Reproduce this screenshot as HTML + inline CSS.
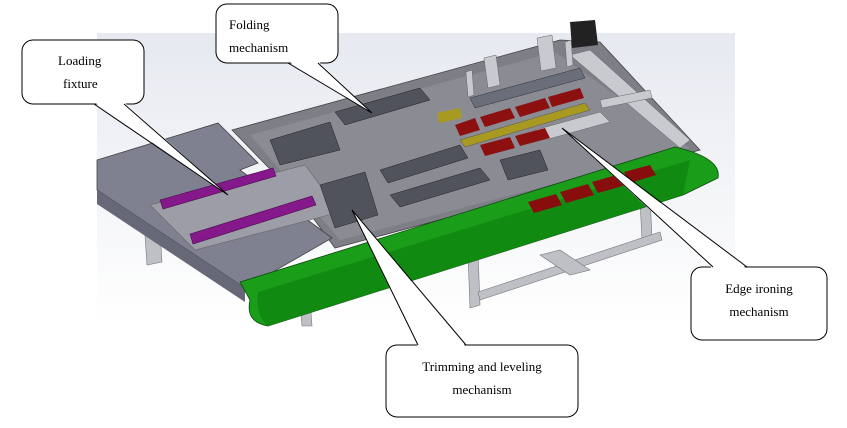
<!DOCTYPE html>
<html><head><meta charset="utf-8"><style>
html,body{margin:0;padding:0;background:#fff;}
svg{display:block;}
text{font-family:"Liberation Serif",serif;font-size:13px;fill:#000;}
</style></head><body>
<svg width="847" height="428" viewBox="0 0 847 428" xmlns="http://www.w3.org/2000/svg">
<defs>
<linearGradient id="bg" x1="0" y1="0" x2="0" y2="1">
<stop offset="0" stop-color="#e6e9f0"/><stop offset="1" stop-color="#ffffff"/>
</linearGradient>
</defs>
<rect x="97" y="33" width="638" height="293" fill="url(#bg)"/>
<g fill="#bfc0c6" stroke="#777" stroke-width="0.6">
<polygon points="468,255 478,252 480,305 470,308"/>
<polygon points="640,200 650,197 652,238 642,241"/>
<polygon points="478,292 660,232 662,240 480,300"/>
<polygon points="540,255 560,250 590,270 570,275"/>
<polygon points="300,300 310,298 312,326 302,326"/>
<polygon points="145,235 160,232 162,262 147,265"/>
</g>
<polygon points="232,130 560,40 600,42 700,150 335,248 300,200" fill="#7d7e86" stroke="#444" stroke-width="0.8"/>
<polygon points="250,135 555,52 690,148 340,240" fill="#8b8c93"/>
<polygon points="97,160 218,123 258,163 240,170 332,238 245,288 97,190" fill="#7f8190" stroke="#444" stroke-width="0.8"/>
<polygon points="97,190 245,288 245,302 97,204" fill="#666878"/>
<polygon points="150,205 305,165 340,212 195,250" fill="#9c9da7" stroke="#666" stroke-width="0.6"/>
<polygon points="160,200 273,168 276,176 163,209" fill="#85188a" stroke="#4a0a4a" stroke-width="0.6"/>
<polygon points="190,234 312,196 316,205 193,244" fill="#85188a" stroke="#4a0a4a" stroke-width="0.6"/>
<g fill="#50525c" stroke="#222" stroke-width="0.5">
<polygon points="335,112 420,88 430,100 345,125"/>
<polygon points="380,170 460,145 468,158 388,183"/>
<polygon points="270,140 330,122 340,150 280,165"/>
<polygon points="320,185 365,172 378,215 335,228"/>
<polygon points="390,195 480,168 490,180 400,207"/>
<polygon points="500,160 540,150 548,170 508,180"/>
</g>
<g fill="#c9cacf" stroke="#666" stroke-width="0.5">
<polygon points="484,58 496,55 500,85 488,88"/>
<polygon points="537,38 552,35 556,68 541,71"/>
<polygon points="535,130 600,112 610,122 545,140"/>
<polygon points="570,55 590,50 690,140 680,148"/>
<polygon points="600,100 650,90 652,98 602,108"/>
<polygon points="466,72 472,70 474,95 468,97"/>
<polygon points="565,42 571,40 573,65 567,67"/>
</g>
<polygon points="470,98 580,68 585,78 475,108" fill="#6a6d7a" stroke="#333" stroke-width="0.5"/>
<g fill="#8c1010">
<polygon points="455,125 475,118 480,130 460,136"/>
<polygon points="480,117 510,108 515,118 485,127"/>
<polygon points="515,107 545,98 550,108 520,117"/>
<polygon points="548,97 580,88 584,98 552,107"/>
<polygon points="480,145 510,137 515,148 485,156"/>
<polygon points="515,136 545,128 550,138 520,146"/>
</g>
<polygon points="437,113 460,108 462,118 439,123" fill="#a89a20"/>
<polygon points="460,140 585,103 590,110 465,147" fill="#a89a20" stroke="#555" stroke-width="0.5"/>
<polygon points="570,22 595,20 598,45 572,48" fill="#222"/>
<path d="M240,282 L675,147 Q722,158 718,178 L683,195 L268,326 Q245,322 250,300 Z" fill="#1a9e1a" stroke="#0b4a0b" stroke-width="0.8"/>
<path d="M258,292 L690,160 L683,195 L268,326 Q255,315 258,292 Z" fill="#118a11"/>
<g fill="#880e0e">
<polygon points="528,202 556,194 562,205 534,213"/>
<polygon points="560,192 588,184 594,195 566,203"/>
<polygon points="592,182 620,174 626,185 598,193"/>
<polygon points="624,172 650,165 656,175 630,183"/>
</g>
<g fill="#fff" stroke="#000" stroke-width="1">
<rect x="22" y="40" width="122" height="64" rx="11"/>
<rect x="216" y="4" width="122" height="59" rx="11"/>
<rect x="386" y="345" width="192" height="72" rx="11"/>
<rect x="691" y="267" width="136" height="73" rx="11"/>
</g>
<g fill="#fff" stroke="none">
<polygon points="94,102 124,102 228,195"/>
<polygon points="288,61 318,61 372,113"/>
<polygon points="418,347 466,347 352,210"/>
<polygon points="713,269 747,269 562,128"/>
</g>
<g stroke="#000" stroke-width="1" fill="none">
<polyline points="94,104 228,195 124,104"/>
<polyline points="288,63 372,113 318,63"/>
<polyline points="418,345 352,210 466,345"/>
<polyline points="713,267 562,128 747,267"/>
</g>
<text x="58" y="65">Loading</text>
<text x="63" y="88">fixture</text>
<text x="229" y="29">Folding</text>
<text x="229" y="52">mechanism</text>
<text x="482" y="371" text-anchor="middle">Trimming and leveling</text>
<text x="482" y="394" text-anchor="middle">mechanism</text>
<text x="759" y="293" text-anchor="middle">Edge ironing</text>
<text x="759" y="316" text-anchor="middle">mechanism</text>
</svg>
</body></html>
